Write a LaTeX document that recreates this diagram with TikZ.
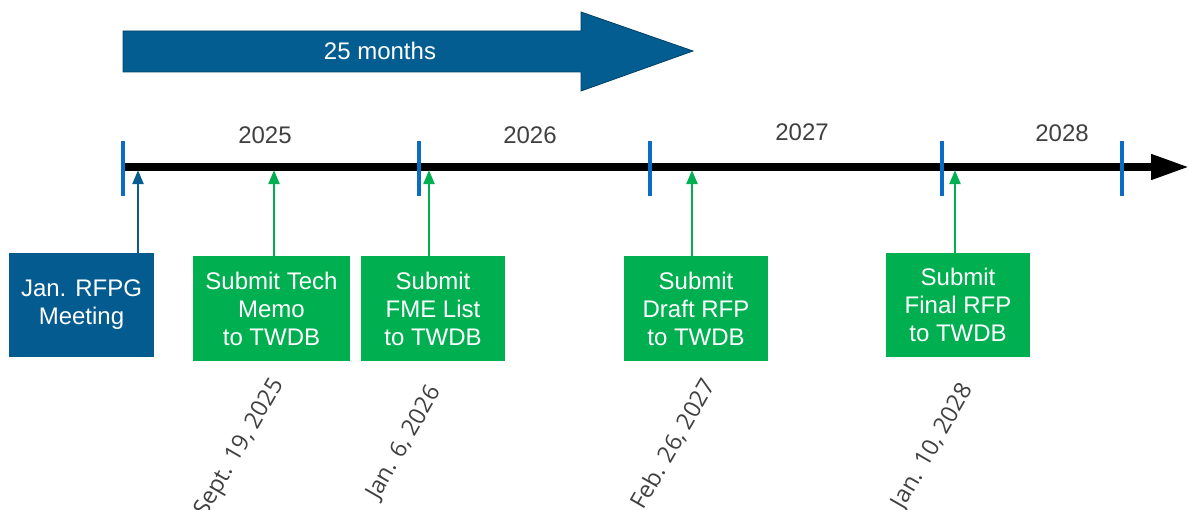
\documentclass[tikz,border=0pt]{standalone}
\usepackage{fontspec}
\setmainfont{Liberation Sans}
\newfontfamily\datefont{Open Sans}
\usetikzlibrary{arrows.meta}
\definecolor{boxblue}{HTML}{045B8F}
\definecolor{arrowblue}{HTML}{035D91}
\definecolor{tickblue}{HTML}{0A6CC2}
\definecolor{mygreen}{HTML}{00AF50}
\definecolor{txtgray}{HTML}{404040}
\tikzset{
  evbox/.style={fill=#1, text=white, align=center, inner sep=0pt,
    font=\fontsize{18}{21}\selectfont},
  yearlbl/.style={text=txtgray, font=\fontsize{18}{21}\selectfont},
  datelbl/.style={text=txtgray, font=\datefont\fontsize{17.5}{20}\selectfont, rotate=60, anchor=east, inner sep=0pt},
  tickline/.style={draw=tickblue, line width=2.4pt},
  uparrow/.style={draw=#1, line width=2.2pt, -{Triangle[length=10.5pt,width=8pt]}},
}
\begin{document}
\begin{tikzpicture}[x=0.75pt,y=-0.75pt]
\useasboundingbox (0,0) rectangle (1189,510);
% big arrow
\fill[arrowblue, draw=arrowblue!70!black, line width=0.6pt]
  (123,31) -- (581,31) -- (581,12) -- (693,51) -- (581,91) -- (581,72) -- (123,72) -- cycle;
\node[text=white, font=\fontsize{18}{21}\selectfont] (dur) at (380,51) {25 months};
% timeline
\coordinate (tlstart) at (123,167);
\coordinate (tlend) at (1189,167);
\draw[line width=5.6pt, -{Triangle[length=28.5pt,width=18pt]}] (tlstart) -- (tlend);
% ticks
\foreach \n/\x in {k0/123,k1/419,k2/650,k3/942,k4/1122}{
  \coordinate (\n a) at (\x,141);
  \coordinate (\n b) at (\x,196);
  \draw[tickline] (\n a) -- (\n b);
}
% years
\node[yearlbl] (y25) at (265,135) {2025};
\node[yearlbl] (y26) at (530,135) {2026};
\node[yearlbl] (y27) at (802,132) {2027};
\node[yearlbl] (y28) at (1062,133) {2028};
% boxes
\node[evbox=boxblue, minimum width=108.75pt, minimum height=78pt] (b0) at (81.5,305) {Jan. RFPG\\Meeting};
\node[evbox=mygreen, minimum width=117.75pt, minimum height=78.75pt] (b1) at (271.5,308.5) {Submit Tech\\Memo\\to TWDB};
\node[evbox=mygreen, minimum width=108pt, minimum height=78.75pt] (b2) at (433,308.5) {Submit\\FME List\\to TWDB};
\node[evbox=mygreen, minimum width=108pt, minimum height=78.75pt] (b3) at (696,308.5) {Submit\\Draft RFP\\to TWDB};
\node[evbox=mygreen, minimum width=108pt, minimum height=78pt] (b4) at (958,305) {Submit\\Final RFP\\to TWDB};
% arrow targets on timeline
\coordinate (t0) at (138,170);
\coordinate (t1) at (274,170);
\coordinate (t2) at (429,170);
\coordinate (t3) at (692,170);
\coordinate (t4) at (955,170);
\draw[uparrow=arrowblue] (b0.north -| t0) -- (t0);
\draw[uparrow=mygreen] (b1.north -| t1) -- (t1);
\draw[uparrow=mygreen] (b2.north -| t2) -- (t2);
\draw[uparrow=mygreen] (b3.north -| t3) -- (t3);
\draw[uparrow=mygreen] (b4.north -| t4) -- (t4);
% dates
\node[datelbl] (d1) at (279,381) {Sept. 19, 2025};
\node[datelbl] (d2) at (436,388) {Jan. 6, 2026};
\node[datelbl] (d3) at (710,381) {Feb. 26, 2027};
\node[datelbl] (d4) at (968,386) {Jan. 10, 2028};
\end{tikzpicture}
\end{document}
